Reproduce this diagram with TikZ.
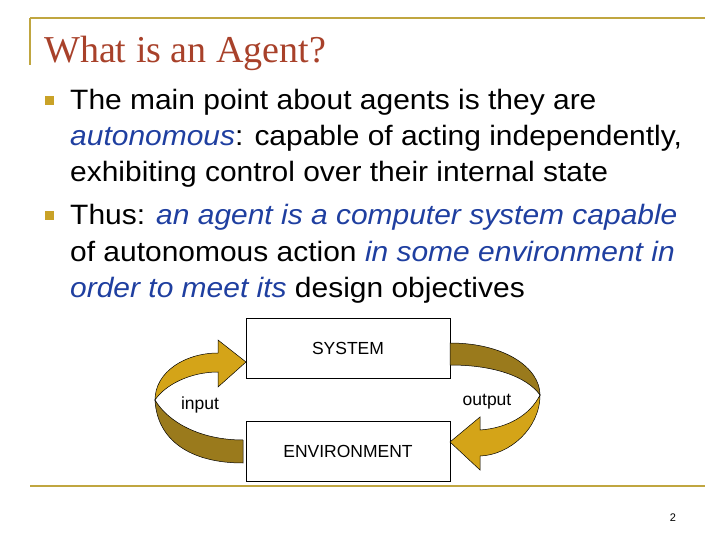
\documentclass[tikz,border=0pt]{standalone}
\usepackage{fontspec}
\setmainfont{Liberation Sans}
\newfontfamily\serifx{Liberation Serif}
\newfontfamily\bodyf[FakeStretch=1.07]{Liberation Sans}
\definecolor{gold}{HTML}{C9A227}
\definecolor{rule}{HTML}{C0A640}
\definecolor{titlec}{HTML}{A8412A}
\definecolor{bluet}{HTML}{1F3FA0}
\definecolor{darkband}{HTML}{9A7A1C}
\definecolor{lightband}{HTML}{D4A418}
\tikzset{
  body/.style={anchor=base west,inner sep=0pt,font=\bodyf\fontsize{28}{32}\selectfont},
  bul/.style={fill=gold,minimum size=9pt,inner sep=0pt},
  box/.style={draw,line width=0.6pt,minimum width=204pt,minimum height=60pt,inner sep=0pt,font=\fontsize{17.5}{20}\selectfont},
  lab/.style={font=\fontsize{17.5}{20}\selectfont,inner sep=0pt,anchor=base},
  band/.style={draw=black,line width=0.5pt}
}
\newcommand{\bt}[1]{\textcolor{bluet}{\itshape #1}}
\begin{document}
\begin{tikzpicture}[x=1pt,y=-1pt]
\useasboundingbox (0,0) rectangle (720,540);
\draw[rule,line width=1.2pt] (30,18) -- (705,18);
\draw[rule,line width=1.2pt] (30,18) -- (30,65);
\draw[rule,line width=1.5pt] (30,486) -- (705,486);
\node[anchor=base west,inner sep=0pt,text=titlec,font=\serifx\fontsize{38}{42}\selectfont] (title) at (44,63) {What is an Agent?};
\node[bul] (b1) at (49,101) {};
\node[bul] (b2) at (49,216) {};
\node[body] (l1) at (70,110) {The main point about agents is they are};
\node[body] (l2) at (70,146) {\bt{autonomous}: capable of acting independently,};
\node[body] (l3) at (70,182) {exhibiting control over their internal state};
\node[body] (l4) at (70,225) {Thus: \bt{an agent is a computer system capable}};
\node[body] (l5) at (70,261) {of autonomous action \bt{in some environment in}};
\node[body] (l6) at (70,297) {\bt{order to meet its} design objectives};
\node[box] (sys) at (348,348) {SYSTEM};
\node[box] (env) at (348,451) {ENVIRONMENT};
% left arrow
\filldraw[band,fill=darkband] (243,440) -- (243,463) .. controls (190,463) and (157,440) .. (155,400) .. controls (168,422) and (200,440) .. (243,440) -- cycle;
\filldraw[band,fill=lightband] (155,400) .. controls (155,372) and (185,353) .. (218,353) -- (218,340) -- (246,362) -- (218,387) -- (218,372) .. controls (190,372) and (165,385) .. (155,400) -- cycle;
% right arrow
\filldraw[band,fill=darkband] (450,343) .. controls (505,343) and (540,368) .. (540,395) .. controls (527,377) and (495,365) .. (450,365) -- cycle;
\filldraw[band,fill=lightband] (540,395) .. controls (540,428) and (510,455) .. (480,456) -- (480,470) -- (450,442) -- (480,417) -- (480,430) .. controls (508,428) and (530,415) .. (540,395) -- cycle;
\node[lab] (in) at (200,409) {input};
\node[lab] (out) at (487,405) {output};
\node[anchor=base,inner sep=0pt,font=\fontsize{11}{13}\selectfont] (pg) at (673,521) {2};
\end{tikzpicture}
\end{document}
